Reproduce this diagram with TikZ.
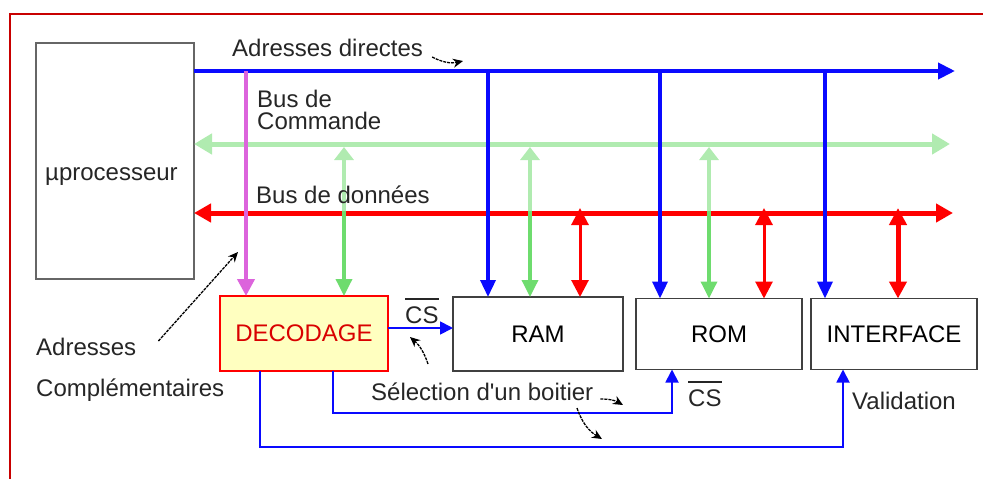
\documentclass[tikz,border=0pt]{standalone}
\usepackage{fontspec}
\setmainfont{Liberation Sans}
\usepackage{tikz}
\usetikzlibrary{positioning, arrows, arrows.meta}

\definecolor{busblue}{RGB}{10,10,255}
\definecolor{cmdlight}{RGB}{176,235,176}
\definecolor{cmdgreen}{RGB}{110,220,110}
\definecolor{datared}{RGB}{255,0,0}
\definecolor{decviolet}{RGB}{220,100,220}
\definecolor{decfill}{RGB}{255,255,192}
\definecolor{framered}{RGB}{200,0,0}

\newcommand{\notcs}{\vbox{\hrule height 2.5pt \vskip 6pt \hbox{CS}}}

\tikzset{
		box/.style={
			rectangle,
			draw=black!75,
			line width=1.6pt,
			inner sep=0pt,
			outer sep=0pt
		},
		decbox/.style={box, draw=red, line width=1.2pt, fill=decfill, text=red!85!black},
		txt/.style={inner sep=0pt, anchor=base west, text=black!85},
		adbus/.style={busblue, line width=4pt, -{Triangle[length=17pt,width=16pt]}},
		adrop/.style={busblue, line width=3.5pt, -{Triangle[length=17pt,width=15pt]}},
		cmdbus/.style={cmdlight, line width=5pt, {Triangle[length=18pt,width=20pt]}-{Triangle[length=18pt,width=20pt]}},
		cmdup/.style={cmdlight, line width=3.5pt, -{Triangle[length=13pt,width=19pt]}},
		cmddown/.style={cmdgreen, line width=3.5pt, -{Triangle[length=17pt,width=16pt]}},
		databus/.style={datared, line width=5pt, {Triangle[length=17pt,width=18pt]}-{Triangle[length=17pt,width=18pt]}},
		datadrop/.style={datared, {Triangle[length=17pt,width=17pt]}-{Triangle[length=17pt,width=17pt]}},
		decline/.style={decviolet, line width=4pt, -{Triangle[length=17pt,width=17pt]}},
		sel/.style={busblue, line width=1.8pt, -{Triangle[length=13pt,width=13pt]}},
		note/.style={black, line width=1.3pt, dash pattern=on 3pt off 1pt, -{Stealth[length=10pt,width=9pt]}}
	}

\begin{document}
\begin{tikzpicture}[x=1pt, y=-1pt, every node/.append style={font=\fontsize{24}{22}\selectfont}]
	\useasboundingbox (0,0) rectangle (983,479);
	\draw[framered, line width=2.5pt] (10,479) -- (10,14) -- (983,14);

	% boitiers
	\node[box, draw=black!60, minimum width=158pt, minimum height=236pt] (cpu) at (115,161) {};
	\node[txt] (cpu-t) at (45,180) {µprocesseur};
	\node[decbox, minimum width=168pt, minimum height=75pt] (dec) at (304,333.5) {DECODAGE};
	\node[box, minimum width=170pt, minimum height=74pt] (ram) at (538,334) {RAM};
	\node[box, minimum width=166pt, minimum height=71pt, right=13pt of ram] (rom) {ROM};
	\node[box, minimum width=166pt, minimum height=71pt, right=9pt of rom] (intf) {INTERFACE};

	% bus
	\coordinate (ad-e) at (955,71);
	\coordinate (cmd-e) at (950,144);
	\coordinate (data-e) at (953,213);
	\draw[adbus] (cpu.east |- 0,71) -- (ad-e);
	\draw[cmdbus] (cpu.east |- 0,144) -- (cmd-e);
	\draw[databus] (cpu.east |- 0,213) -- (data-e);

	\foreach \x/\b in {488/ram, 660/rom, 825/intf}
		\draw[adrop] (\x,71) -- (\x,71 |- \b.north);
	\draw[decline] (246,71) -- (246,71 |- dec.north);
	\foreach \x/\b in {344/dec, 530/ram, 709/rom} {
		\draw[cmdup] (\x,211) -- (\x,147);
		\draw[cmddown] (\x,211) -- (\x,211 |- \b.north);
	}
	\foreach \x/\b/\w in {580/ram/3pt, 764/rom/3pt, 898/intf/5pt}
		\draw[datadrop, line width=\w] (\x,208) -- (\x,208 |- \b.north);

	% selection
	\draw[sel] (dec.east |- 0,328) -- (ram.west |- 0,328);
	\draw[sel] ([xshift=29pt]dec.south) -- ++(0,42) -| ([xshift=-47pt]rom.south);
	\draw[sel] ([xshift=-44pt]dec.south) -- ++(0,76) -| ([xshift=-51pt]intf.south);

	% textes
	\node[txt] (addir) at (232,56) {Adresses directes};
	\node[txt, anchor=north west, align=left] (cmd-t) at (257,90) {Bus de\\Commande};
	\node[txt] (data-t) at (256,203) {Bus de données};
	\node[txt] (compl-a) at (36,355) {Adresses};
	\node[txt] (compl-b) at (36,396) {Complémentaires};
	\node[txt] (cs-ram) at (405,323) {\notcs};
	\node[txt] (selb) at (371,400) {Sélection d\textquotesingle un boitier};
	\node[txt] (cs-rom) at (688,406) {\notcs};
	\node[txt] (valid) at (852,409) {Validation};

	\coordinate (n-ad) at (463,61);
	\coordinate (n-compl) at (238,252);
	\coordinate (n-cs) at (410,337);
	\coordinate (n-rom) at (623,405);
	\coordinate (n-val) at (602,439);
	\draw[note] ([shift={(9,1)}]addir.base east) to[bend right=20] (n-ad);
	\draw[note] ([shift={(22,-14)}]compl-a.base east) -- (n-compl);
	\draw[note] ([shift={(57,-36)}]selb.base west) to[bend right=15] (n-cs);
	\draw[note] ([shift={(7,-1)}]selb.base east) to[bend left=15] (n-rom);
	\draw[note] ([shift={(206,8)}]selb.base west) to[bend right=20] (n-val);
\end{tikzpicture}
\end{document}
